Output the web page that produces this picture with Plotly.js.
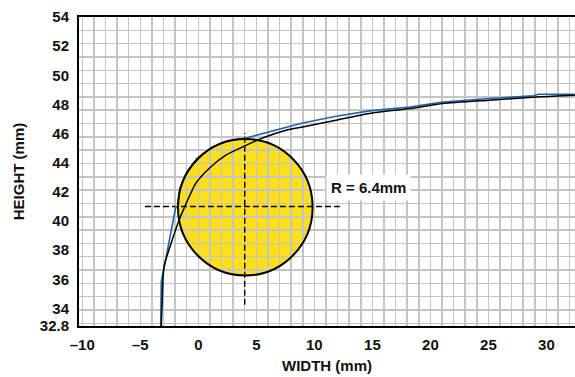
<!DOCTYPE html>
<html>
<head>
<meta charset="utf-8">
<script src="https://cdn.plot.ly/plotly-3.0.1.min.js"></script>
<style>html,body{margin:0;padding:0;background:#fff;}#chart{width:575px;height:377px;}</style>
</head>
<body>
<div id="chart"></div>
<script>
// ---- data ----
const blueX = [-3.24, -3.24, -3.19, -2.82, -2.46, -1.94, -1.75, -1.6, -1.02, -0.1, 1.1, 2.5, 4.0, 6.11, 6.98, 8.99, 11.87, 14.75, 18.2, 21.08, 25.1, 28.9, 29.3, 32.45];
const blueY = [32.8, 34.58, 35.84, 37.33, 38.81, 40.98, 41.0, 42.21, 43.34, 44.3, 45.04, 45.51, 45.67, 46.12, 46.28, 46.73, 47.19, 47.56, 47.83, 48.17, 48.41, 48.6, 48.7, 48.7];
const blackX = [-3.19, -3.10, -2.95, -1.66, -1.23, -0.22, 0.93, 2.37, 3.96, 5.54, 7.56, 8.99, 11.87, 14.75, 18.2, 21.08, 25.1, 29.42, 32.45];
const blackY = [32.8, 34.7, 36.87, 40.05, 40.87, 42.58, 43.61, 44.52, 45.14, 45.7, 46.23, 46.46, 46.92, 47.38, 47.72, 48.06, 48.29, 48.52, 48.63];
const hLineX = [-4.6, 12.45], hLineY = [41, 41];
const vLineX = [4, 4], vLineY = [34.25, 46.05];
const circleCx = 4.05, circleCy = 40.95, circleRx = 5.8, circleRy = 4.68;
const labelText = 'R = 6.4mm', labelX = 14.66, labelY = 42.33;
const yTickVals = [32.8, 34, 36, 38, 40, 42, 44, 46, 48, 50, 52, 54];
const yTickText = ['32.8', '34', '36', '38', '40', '42', '44', '46', '48', '50', '52', '54'];
const xTickVals = [-10, -5, 0, 5, 10, 15, 20, 25, 30];
const xTickText = ['\u201310', '\u20135', '0', '5', '10', '15', '20', '25', '30'];

const FONT = 'Liberation Sans, Arial, Helvetica, sans-serif';
const GRID = '#c4c4c4';
const bold = s => '<b>' + s + '</b>';

const traces = [
  {x: [], y: [], yaxis: 'y2', type: 'scatter', mode: 'lines', showlegend: false, hoverinfo: 'skip'},
  {x: hLineX, y: hLineY, type: 'scatter', mode: 'lines', line: {color: '#000', width: 1.4, dash: '6px,3px'}, showlegend: false, hoverinfo: 'skip'},
  {x: vLineX, y: vLineY, type: 'scatter', mode: 'lines', line: {color: '#000', width: 1.4, dash: '6px,3px'}, showlegend: false, hoverinfo: 'skip'},
  {x: blueX, y: blueY, type: 'scatter', mode: 'lines', line: {color: '#1f64a8', width: 1.6}, showlegend: false},
  {x: blackX, y: blackY, type: 'scatter', mode: 'lines', line: {color: '#000', width: 1.5, shape: 'spline', smoothing: 0.6}, showlegend: false}
];

const layout = {
  width: 575, height: 377,
  margin: {l: 79, r: 0, t: 17, b: 51},
  paper_bgcolor: '#fff', plot_bgcolor: '#fff',
  showlegend: false,
  font: {family: FONT, color: '#111'},
  xaxis: {
    range: [-10.28, 32.46],
    tickmode: 'array', tickvals: xTickVals, ticktext: xTickText.map(bold),
    showgrid: true, gridcolor: GRID, gridwidth: 1.5,
    minor: {tickmode: 'linear', tick0: 0, dtick: 1, showgrid: true, gridcolor: GRID, gridwidth: 1.5},
    zeroline: false, showline: true, linecolor: '#000', linewidth: 2, mirror: true,
    ticks: '', ticklabelstandoff: 4,
    tickfont: {family: FONT, size: 15, color: '#111', weight: 'bold'},
    title: {text: bold('WIDTH (mm)'), font: {family: FONT, size: 15, color: '#111', weight: 'bold'}, standoff: 8}
  },
  yaxis: {
    range: [32.8, 54],
    tickmode: 'array', tickvals: yTickVals, ticktext: yTickText.map(bold),
    showgrid: false, zeroline: false, showline: true, linecolor: '#000', linewidth: 2,
    ticks: '', ticklabelstandoff: 5,
    tickfont: {family: FONT, size: 15, color: '#111', weight: 'bold'},
    title: {text: bold('HEIGHT (mm)'), font: {family: FONT, size: 15, color: '#111', weight: 'bold'}, standoff: 12}
  },
  yaxis2: {
    overlaying: 'y', range: [32.8, 54],
    tickmode: 'linear', tick0: 54, dtick: 0.9138,
    showgrid: true, gridcolor: GRID, gridwidth: 1.5,
    showticklabels: false, showline: false, zeroline: false, ticks: ''
  },
  shapes: [
    {type: 'circle', xref: 'x', yref: 'y', layer: 'below',
     x0: circleCx - circleRx, x1: circleCx + circleRx, y0: circleCy - circleRy, y1: circleCy + circleRy,
     fillcolor: '#ffdf1a', line: {width: 0}},
    {type: 'circle', xref: 'x', yref: 'y', layer: 'above',
     x0: circleCx - circleRx, x1: circleCx + circleRx, y0: circleCy - circleRy, y1: circleCy + circleRy,
     fillcolor: 'rgba(0,0,0,0)', line: {color: '#000', width: 2}}
  ],
  annotations: [
    {x: labelX, y: labelY, xref: 'x', yref: 'y', text: bold(labelText), showarrow: false,
     bgcolor: '#fff', borderpad: 4,
     font: {family: FONT, size: 15, color: '#111', weight: 'bold'}}
  ]
};

Plotly.newPlot('chart', traces, layout, {displayModeBar: false, staticPlot: true});
</script>
</body>
</html>
